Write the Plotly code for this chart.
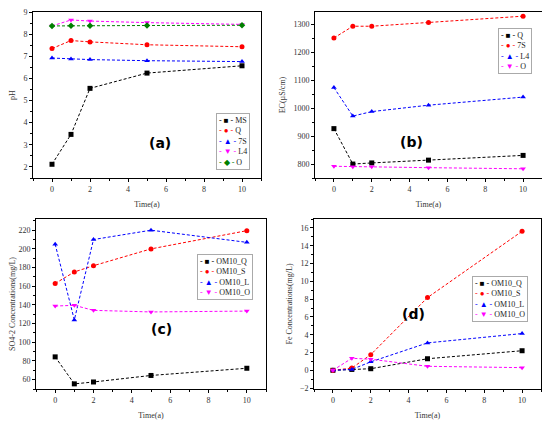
import plotly.graph_objects as go

time = [0, 1, 2, 5, 10]

# (a) pH
ph_ms = [2.12, 3.47, 5.55, 6.24, 6.57]
ph_q = [7.35, 7.71, 7.65, 7.52, 7.43]
ph_7s = [6.92, 6.88, 6.85, 6.80, 6.76]
ph_l4 = [8.37, 8.64, 8.59, 8.52, 8.44]
ph_o = [8.37, 8.38, 8.38, 8.39, 8.40]
ph_ticks = [2, 3, 4, 5, 6, 7, 8, 9]

# (b) EC
ec_q = [927, 800, 804, 814, 831]
ec_7s = [1252, 1294, 1294, 1307, 1330]
ec_l4 = [1074, 972, 988, 1011, 1040]
ec_o = [792, 790, 790, 787, 783]

# (c) SO4-2
so4_q = [84.4, 55.5, 57.5, 64.5, 72.2]
so4_s = [163, 175.3, 182, 200, 219.5]
so4_l = [205, 124, 210, 220, 207]
so4_o = [138.8, 139.6, 134.2, 132.5, 133.4]

# (d) Fe
fe_q = [0, 0.1, 0.18, 1.3, 2.2]
fe_s = [0, 0.25, 1.76, 8.17, 15.62]
fe_l = [0, 0.1, 0.95, 3.08, 4.13]
fe_o = [0, 1.35, 1.25, 0.45, 0.3]

names_a = ['MS', 'Q', '7S', 'L4', 'O']
names_b = ['Q', '7S', 'L4', 'O']
names_cd = ['OM10_Q', 'OM10_S', 'OM10_L', 'OM10_O']

colors = ['black', 'red', 'blue', 'magenta', '#008000']
symbols = ['square', 'circle', 'triangle-up', 'triangle-down', 'diamond']
glyphs = ['■', '●', '▲', '▼', '◆']
serif = 'Liberation Serif'

# page body has an 8px margin, so the figure is a bit smaller than the window
W, H, OFF = 542, 414, 8


def px_x(x):
    return (x - OFF) / W


def px_y(y):
    return (H + OFF - y) / H


fig = go.Figure()


def add_series(ys, names, xa, ya):
    for i, (y, n) in enumerate(zip(ys, names)):
        fig.add_trace(go.Scatter(
            x=time, y=y, name=n, mode='lines+markers',
            xaxis=xa, yaxis=ya, showlegend=False,
            line=dict(color=colors[i], width=1, dash='3px,2px'),
            marker=dict(symbol=symbols[i], size=5, color=colors[i]),
        ))


add_series([ph_ms, ph_q, ph_7s, ph_l4, ph_o], names_a, 'x', 'y')
add_series([ec_q, ec_7s, ec_l4, ec_o], names_b, 'x2', 'y2')
add_series([so4_q, so4_s, so4_l, so4_o], names_cd, 'x3', 'y3')
add_series([fe_q, fe_s, fe_l, fe_o], names_cd, 'x4', 'y4')

axis_style = dict(
    showline=True, linecolor='black', linewidth=1, mirror=True,
    showgrid=False, zeroline=False,
    ticks='outside', ticklen=3, tickwidth=1, tickcolor='black',
    tickfont=dict(family=serif, size=8, color='#333'),
    ticklabeloverflow='allow',
    automargin=False,
)
title_font = dict(family=serif, size=8, color='#333')


def xaxis(domain, anchor):
    return dict(axis_style, domain=domain, anchor=anchor, range=[-1, 11],
                dtick=2, minor=dict(ticks='outside', ticklen=2, tickcolor='black', dtick=1),
                title=dict(text='Time(a)', font=title_font, standoff=8))


def yaxis(domain, anchor, rng, dtick, title):
    return dict(axis_style, domain=domain, anchor=anchor, range=rng,
                dtick=dtick, minor=dict(ticks='outside', ticklen=2, tickcolor='black', dtick=dtick / 2),
                title=dict(text=title, font=title_font, standoff=6))


top = [px_y(178), px_y(12)]
bottom = [px_y(389), px_y(219)]

ya = yaxis(top, 'x', [1.5, 9.0], 1, 'pH')
ya.update(tickmode='array', tickvals=ph_ticks)

fig.update_layout(
    width=W, height=H,
    margin=dict(l=0, r=0, t=0, b=0),
    paper_bgcolor='white', plot_bgcolor='white',
    xaxis=xaxis([px_x(33), px_x(261)], 'y'),
    yaxis=ya,
    xaxis2=xaxis([px_x(315), px_x(542)], 'y2'),
    yaxis2=yaxis(top, 'x2', [750, 1345], 100, 'EC(µS/cm)'),
    xaxis3=xaxis([px_x(36), px_x(266)], 'y3'),
    yaxis3=yaxis(bottom, 'x3', [50, 232], 20, 'SO4-2 Concentrations(mg/L)'),
    xaxis4=xaxis([px_x(314), px_x(541)], 'y4'),
    yaxis4=yaxis(bottom, 'x4', [-2.1, 17], 2, 'Fe Concentrations(mg/L)'),
)

# compact legends written as text boxes
legends = [(names_a, 216, 113), (names_b, 498, 28), (names_cd, 197, 254), (names_cd, 472, 276)]
for names, lx, ly in legends:
    rows = ['<span style="color:%s">- %s -</span> %s' % (colors[i], glyphs[i], n)
            for i, n in enumerate(names)]
    fig.add_annotation(
        text='<br>'.join(rows), x=px_x(lx), y=px_y(ly),
        xref='paper', yref='paper', xanchor='left', yanchor='top',
        align='left', showarrow=False,
        bgcolor='white', bordercolor='#aaaaaa', borderwidth=1, borderpad=2,
        font=dict(family=serif, size=8, color='#222'),
    )

labels = [('(a)', 147, 133), ('(b)', 425, 132), ('(c)', 149, 339), ('(d)', 427, 324)]
for text, lx, ly in labels:
    fig.add_annotation(
        text='<b>%s</b>' % text, x=px_x(lx), y=px_y(ly),
        xref='paper', yref='paper', showarrow=False,
        font=dict(family='DejaVu Sans', size=14, color='black'),
    )

fig.write_html('out.html')
